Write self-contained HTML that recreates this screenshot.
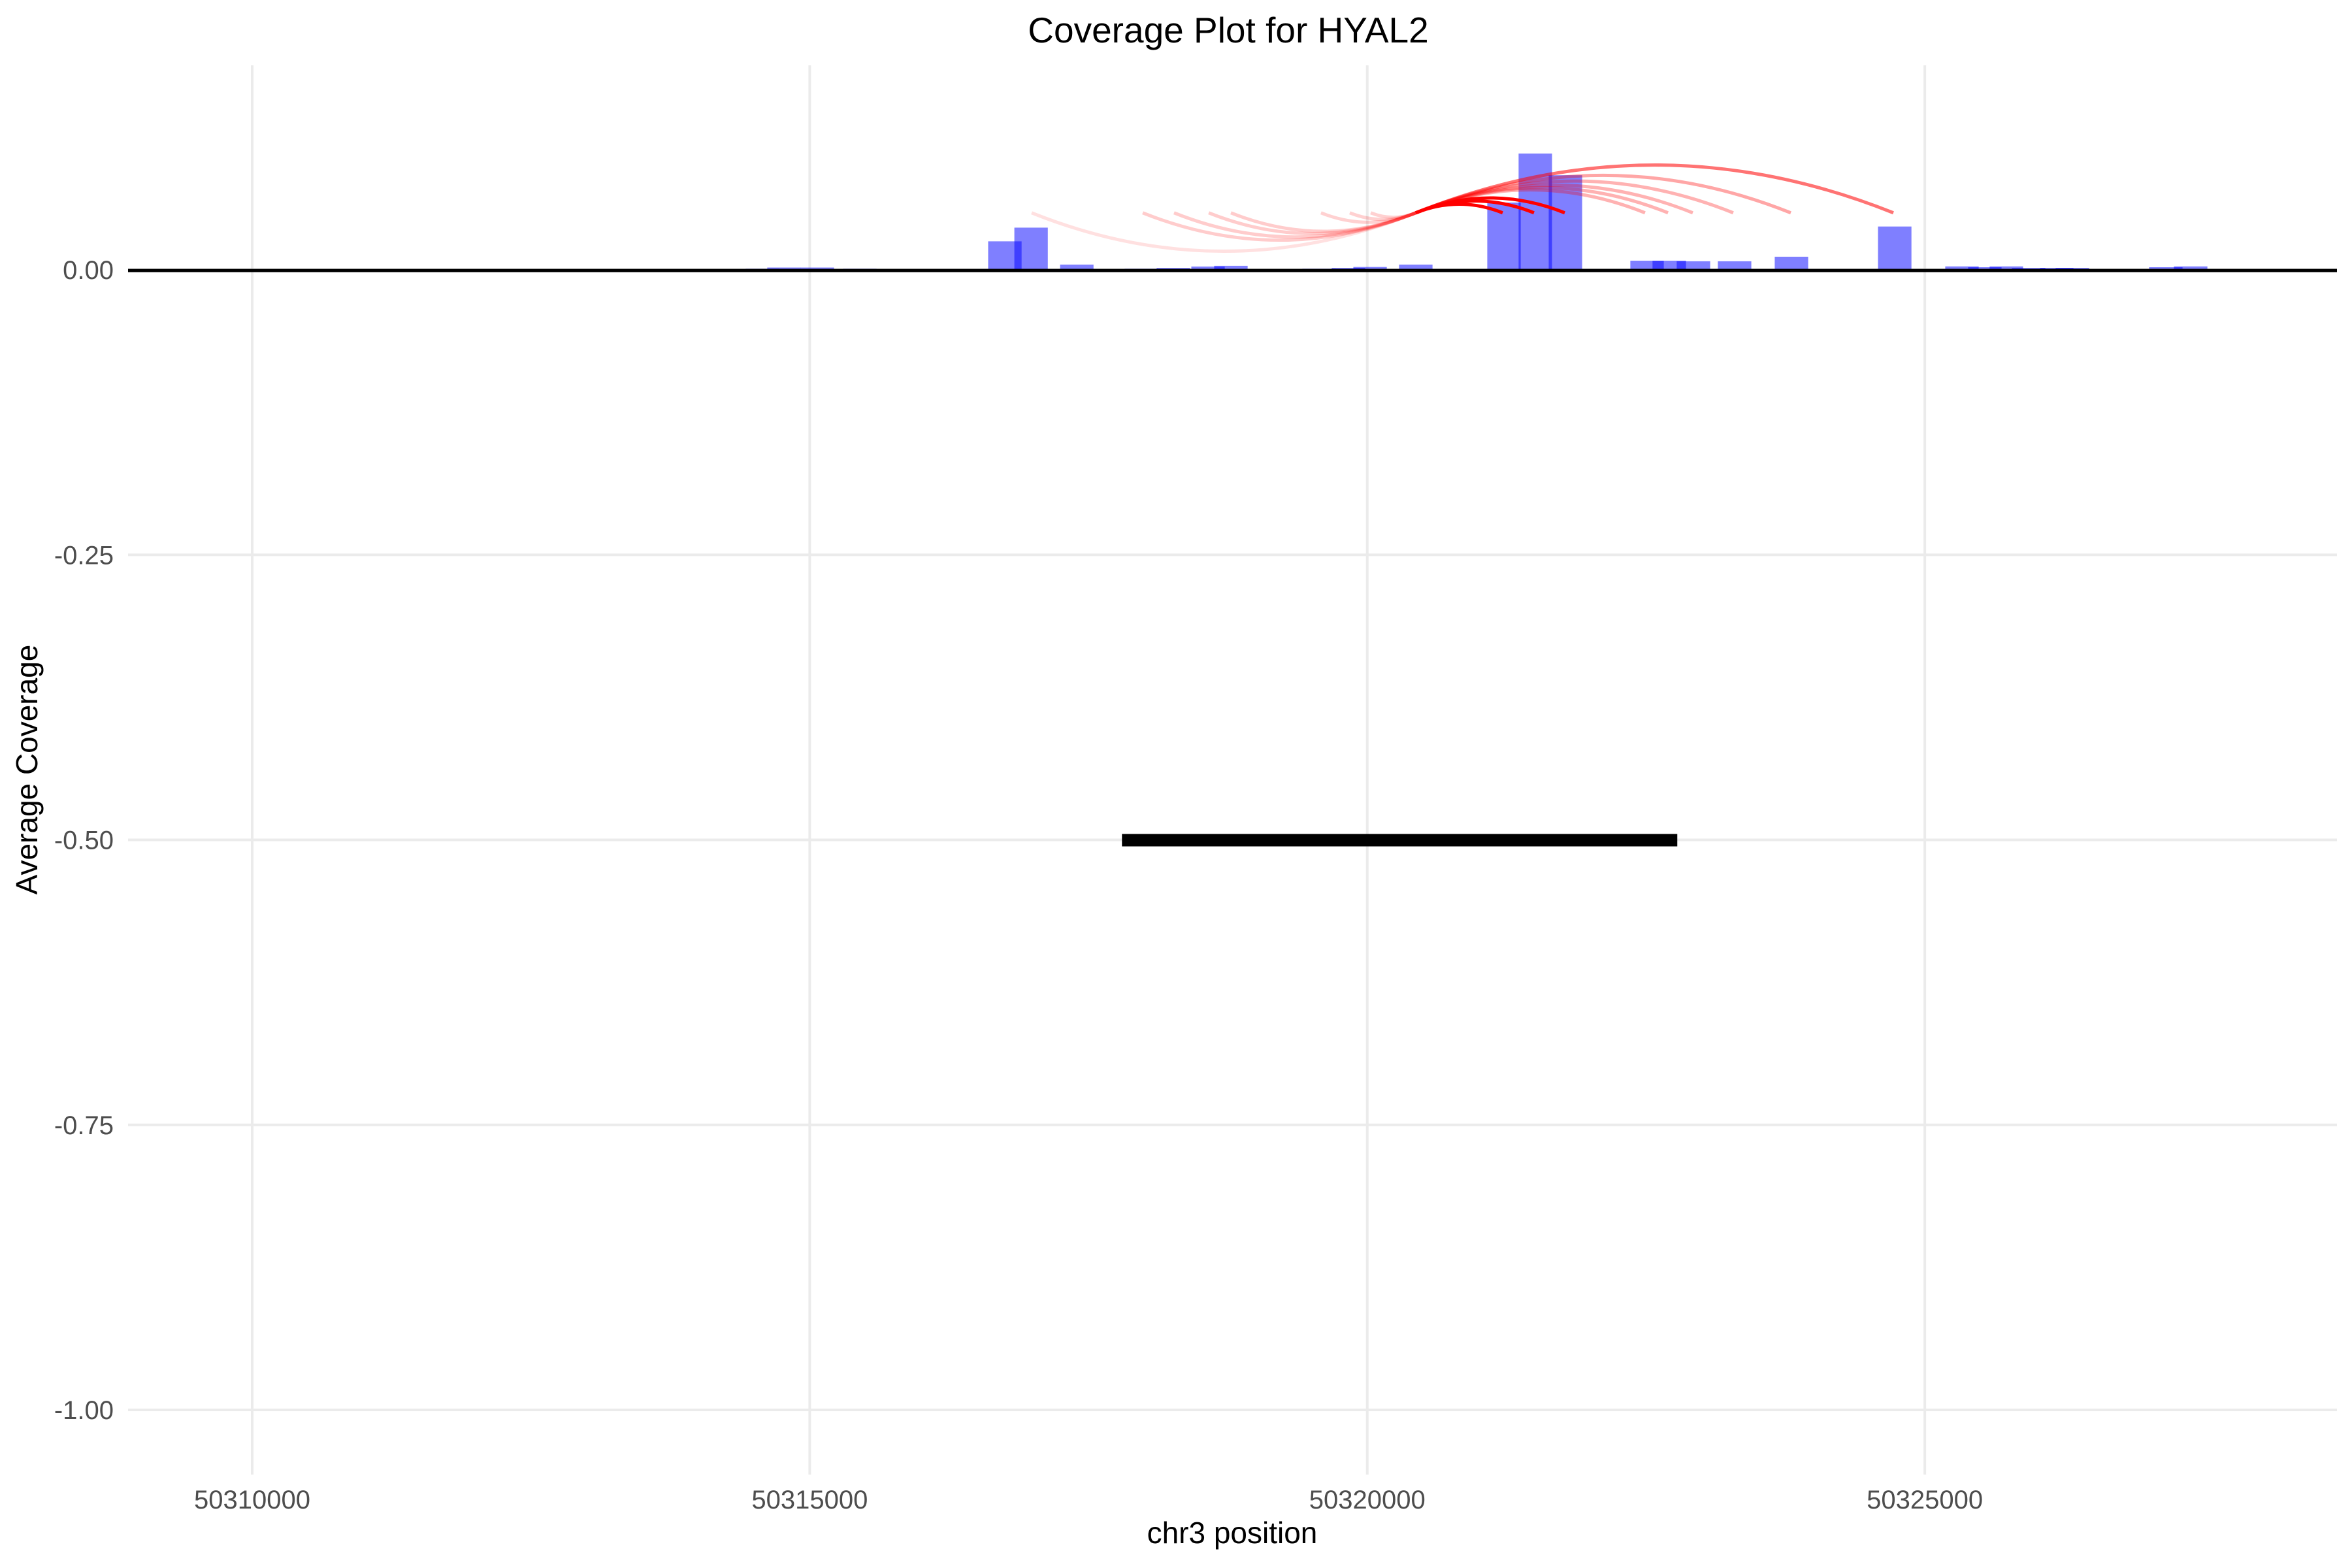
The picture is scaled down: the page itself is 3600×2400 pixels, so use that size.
<!DOCTYPE html>
<html><head><meta charset="utf-8">
<style>
html,body{margin:0;padding:0;background:#fff;}
svg{display:block;font-family:"Liberation Sans",sans-serif;}
</style></head>
<body>
<svg id="chart" width="3600" height="2400" viewBox="0 0 3600 2400" xmlns="http://www.w3.org/2000/svg">
<rect x="0" y="0" width="3600" height="2400" fill="#fff"/>
<g id="grid"></g>
<g id="bars"></g>
<g id="arcs"></g>
<g id="misc"></g>
<g id="axes"></g>
<text x="1880" y="65" font-size="55" text-anchor="middle" fill="#000">Coverage Plot for HYAL2</text>
<text x="1886" y="2362" font-size="46" text-anchor="middle" fill="#000">chr3 position</text>
<text x="0" y="0" font-size="46" text-anchor="middle" fill="#000" transform="translate(57,1178) rotate(-90)">Average Coverage</text>
</svg>
<script>
// ---- data ----
const xTicks = [50310000, 50315000, 50320000, 50325000];
const xTickLabels = ["50310000", "50315000", "50320000", "50325000"];
const yTicks = [0, -0.25, -0.5, -0.75, -1];
const yTickLabels = ["0.00", "-0.25", "-0.50", "-0.75", "-1.00"];
const barCenters = [50314324, 50314576, 50314769, 50315068, 50315449, 50315554, 50315941,
  50316750, 50316985, 50317395, 50317974, 50318261, 50318572, 50318777,
  50319568, 50319831, 50320025, 50320435, 50321226, 50321507, 50321777,
  50322509, 50322708, 50322925, 50323294, 50323804, 50324730,
  50325333, 50325538, 50325731, 50325931, 50326183, 50326323, 50327161, 50327384];
const barValues = [0.0005, 0.001, 0.002, 0.002, 0.001, 0.0005, 0.0005,
  0.025, 0.037, 0.0046, 0.001, 0.0017, 0.0029, 0.0035,
  0.001, 0.0017, 0.0025, 0.0046, 0.059, 0.102, 0.083,
  0.008, 0.008, 0.0075, 0.0075, 0.0115, 0.038,
  0.003, 0.0023, 0.003, 0.0017, 0.0017, 0.0017, 0.0023, 0.003];
const barWidthBp = 300;
const hubPos = 50320435;
const arcLevel = 0.05;
const leftArcStarts = [50316990, 50317986, 50318267, 50318578, 50318777, 50319585, 50319843, 50320031];
const leftArcAlpha = [0.12, 0.2, 0.2, 0.2, 0.2, 0.18, 0.18, 0.18];
const rightArcEnds = [50321214, 50321495, 50321771, 50322491, 50322697, 50322919, 50323282, 50323798, 50324718];
const rightArcAlpha = [1, 1, 1, 0.3, 0.3, 0.3, 0.3, 0.35, 0.55];
const geneStart = 50317800, geneEnd = 50322780, geneY = -0.5;

// ---- scales ----
const X = bp => 386 + (bp - 50310000) / 5.859;
const Y = v => 413 - v * 1745;
const PL = 196, PR = 3577, PT = 100, PB = 2257;
const NS = "http://www.w3.org/2000/svg";
function mk(tag, attrs, parent) {
  const e = document.createElementNS(NS, tag);
  for (const k in attrs) e.setAttribute(k, attrs[k]);
  parent.appendChild(e);
  return e;
}
const grid = document.getElementById('grid');
const axes = document.getElementById('axes');
xTicks.forEach((t, i) => {
  const l = mk('line', {x1: X(t), x2: X(t), y1: PT, y2: PB, stroke: '#ebebeb', 'stroke-width': 4}, grid);
  
  
  const tx = mk('text', {x: X(t), y: 2309, 'font-size': 40, fill: '#4d4d4d', 'text-anchor': 'middle'}, axes);
  tx.textContent = xTickLabels[i];
  
  
});
yTicks.forEach((t, i) => {
  const l = mk('line', {x1: PL, x2: PR, y1: Y(t), y2: Y(t), stroke: '#ebebeb', 'stroke-width': 4}, grid);
  
  
  const tx = mk('text', {x: 174, y: Y(t) + 14, 'font-size': 40, fill: '#4d4d4d', 'text-anchor': 'end'}, axes);
  tx.textContent = yTickLabels[i];
  
  
});
const bars = document.getElementById('bars');
barCenters.forEach((c, i) => {
  const x0 = X(c - barWidthBp / 2), x1 = X(c + barWidthBp / 2);
  const r = mk('rect', {x: x0, y: Y(barValues[i]), width: x1 - x0, height: Y(0) - Y(barValues[i]), fill: '#0000ff', 'fill-opacity': 0.5}, bars);
  
  
});
const arcs = document.getElementById('arcs');
function arcPath(a, b, dir) {
  const x1 = X(a), x2 = X(b), y = Y(arcLevel);
  const cx = (x1 + x2) / 2, off = 0.2 * Math.abs(x2 - x1);
  return `M${x1},${y} Q${cx},${y + dir * off} ${x2},${y}`;
}
leftArcStarts.forEach((s, i) => {
  const p = mk('path', {d: arcPath(s, hubPos, 1), fill: 'none', stroke: '#ff0000', 'stroke-opacity': leftArcAlpha[i], 'stroke-width': 5}, arcs);
  
  
});
rightArcEnds.map((e, i) => i).sort((a, b) => rightArcAlpha[a] - rightArcAlpha[b]).forEach(i => {
  const p = mk('path', {d: arcPath(hubPos, rightArcEnds[i], -1), fill: 'none', stroke: '#ff0000', 'stroke-opacity': rightArcAlpha[i], 'stroke-width': 5}, arcs);
  
  
});
const misc = document.getElementById('misc');
const zl = mk('line', {x1: PL, x2: PR, y1: Y(0) + 1, y2: Y(0) + 1, stroke: '#000', 'stroke-width': 5}, misc);


const gene = mk('rect', {x: X(geneStart), y: Y(geneY) - 9, width: X(geneEnd) - X(geneStart), height: 19, fill: '#000'}, misc);


</script>
</body></html>
